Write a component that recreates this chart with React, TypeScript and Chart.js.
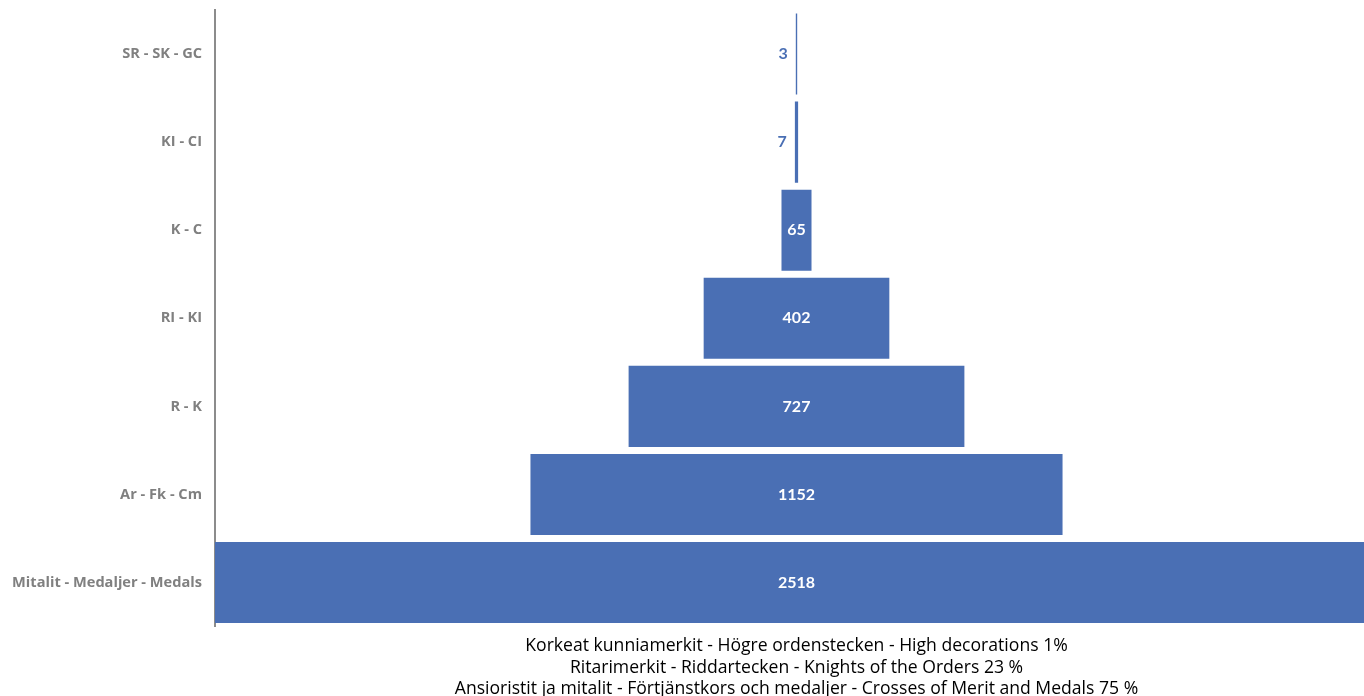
import React, { useEffect, useRef } from "react";
import { Chart, registerables } from "chart.js";

Chart.register(...registerables);

const categories = [
  "SR - SK - GC",
  "KI - CI",
  "K - C",
  "RI - KI",
  "R - K",
  "Ar - Fk - Cm",
  "Mitalit - Medaljer - Medals",
];
const values = [3, 7, 65, 402, 727, 1152, 2518];
const titleLines = [
  "Korkeat kunniamerkit - Högre ordenstecken - High decorations 1%",
  "Ritarimerkit - Riddartecken - Knights of the Orders 23 %",
  "Ansioristit ja mitalit - Förtjänstkors och medaljer - Crosses of Merit and Medals 75 %",
];

const BLUE = "#4a6fb4";

const valueLabelPlugin = {
  id: "valueLabels",
  afterDatasetsDraw(chart: any) {
    const ctx = chart.ctx;
    const meta = chart.getDatasetMeta(0);
    ctx.save();
    ctx.font = "bold 16px Lato";
    ctx.textBaseline = "middle";
    meta.data.forEach((bar: any, i: number) => {
      const v = values[i];
      const left = Math.min(bar.x, bar.base);
      const right = Math.max(bar.x, bar.base);
      const cx = (left + right) / 2;
      const text = String(v);
      const w = ctx.measureText(text).width;
      if (right - left > w + 6) {
        ctx.fillStyle = "#ffffff";
        ctx.textAlign = "center";
        ctx.fillText(text, cx, bar.y);
      } else {
        ctx.fillStyle = BLUE;
        ctx.textAlign = "right";
        ctx.fillText(text, left - 8, bar.y);
      }
    });
    ctx.restore();
  },
};

export default function App() {
  const ref = useRef<HTMLCanvasElement | null>(null);
  useEffect(() => {
    document.body.style.margin = "0";
    document.body.style.overflow = "hidden";
    const maxV = Math.max(...values);
    const chart = new Chart(ref.current as HTMLCanvasElement, {
      type: "bar",
      data: {
        labels: categories,
        datasets: [
          {
            data: values.map((v) => [-v / 2, v / 2]) as any,
            backgroundColor: BLUE,
            borderWidth: 0,
            barPercentage: 0.92,
            categoryPercentage: 1,
          },
        ],
      },
      options: {
        indexAxis: "y",
        animation: false,
        responsive: true,
        maintainAspectRatio: false,
        layout: { padding: { top: 10, right: 2, left: 0, bottom: 0 } },
        plugins: {
          legend: { display: false },
          tooltip: { enabled: false },
          title: {
            display: true,
            position: "bottom",
            fullSize: false,
            text: titleLines,
            color: "#000000",
            font: { family: "Open Sans", size: 17.6, weight: "normal", lineHeight: 1.22 },
            padding: { top: 9, bottom: -4 },
          },
        },
        scales: {
          x: {
            display: false,
            min: -maxV / 2,
            max: maxV / 2,
          },
          y: {
            afterFit: (axis: any) => {
              axis.width = 215;
              axis.paddingTop = 0;
              axis.paddingBottom = 0;
            },
            grid: { display: false, drawTicks: false },
            border: { display: true, color: "#8c8c8c", width: 2 },
            ticks: {
              color: "#808080",
              padding: 13,
              font: { family: "Open Sans", size: 14.6, weight: "bold" },
            },
          },
        },
      },
      plugins: [valueLabelPlugin],
    });
    return () => chart.destroy();
  }, []);
  return (
    <div style={{ position: "fixed", left: 0, top: 0, width: 1380, height: 696 }}>
      <canvas ref={ref} />
    </div>
  );
}
